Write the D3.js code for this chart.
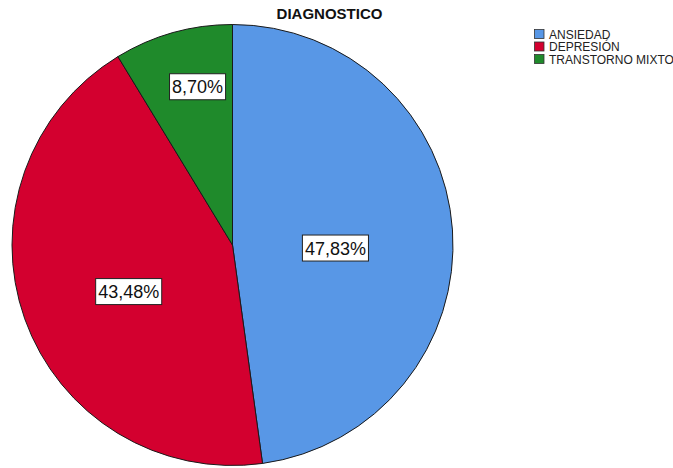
<!DOCTYPE html>
<html><head><meta charset="utf-8">
<script src="https://cdn.jsdelivr.net/npm/d3@7"></script>
<style>body{margin:0;background:#fff}svg{display:block}</style>
</head><body>
<svg id="c" width="673" height="468"></svg>
<script>
const title = "DIAGNOSTICO";
const categories = ["ANSIEDAD", "DEPRESIÓN", "TRANSTORNO MIXTO"];
const values = [11, 10, 2];
const labels = ["47,83%", "43,48%", "8,70%"];
const colors = ["#5897e6", "#d3002f", "#1f8a2b"];

const svg = d3.select("#c");
const cx = 232.5, cy = 245, r = 220.5;
const font = "Arial, 'Liberation Sans', sans-serif";

svg.append("text").attr("x", 329.5).attr("y", 18.5).attr("text-anchor", "middle")
  .attr("font-family", font).attr("font-weight", "bold").attr("font-size", 15)
  .attr("fill", "#111").text(title);

const pie = d3.pie().sort(null).value(d => d)(values);
const arc = d3.arc().innerRadius(0).outerRadius(r);
const g = svg.append("g").attr("transform", `translate(${cx},${cy})`);
g.selectAll("path").data(pie).join("path")
  .attr("d", arc).attr("fill", (d, i) => colors[i])
  .attr("stroke", "#1a1a1a").attr("stroke-width", 1);

const labelRadius = [0.467, 0.516, 0.735];
const labelAngleShift = [5.6, -4.6, 3.2];
pie.forEach((d, i) => {
  const a = (d.startAngle + d.endAngle) / 2 + labelAngleShift[i] * Math.PI / 180;
  const rr = r * labelRadius[i];
  const x = Math.sin(a) * rr, y = -Math.cos(a) * rr;
  const t = g.append("text").attr("x", x).attr("y", y + 6.5).attr("text-anchor", "middle")
    .attr("font-family", font).attr("font-size", 18).attr("fill", "#111").text(labels[i]);
  const bb = t.node().getBBox();
  g.insert("rect", "text:last-of-type")
    .attr("x", bb.x - 2.5).attr("y", y - 13).attr("width", bb.width + 5).attr("height", 26)
    .attr("fill", "#fff").attr("stroke", "#222").attr("stroke-width", 1);
  t.raise();
});

const leg = svg.append("g");
categories.forEach((c, i) => {
  const y = 29 + i * 12.5;
  leg.append("rect").attr("x", 534.5).attr("y", y + 0.5).attr("width", 9.5).attr("height", 9)
    .attr("fill", colors[i]).attr("stroke", "#333").attr("stroke-width", 0.8);
  leg.append("text").attr("x", 549).attr("y", y + 9.5)
    .attr("font-family", font).attr("font-size", 12).attr("fill", "#222").text(c);
});
</script>
</body></html>
